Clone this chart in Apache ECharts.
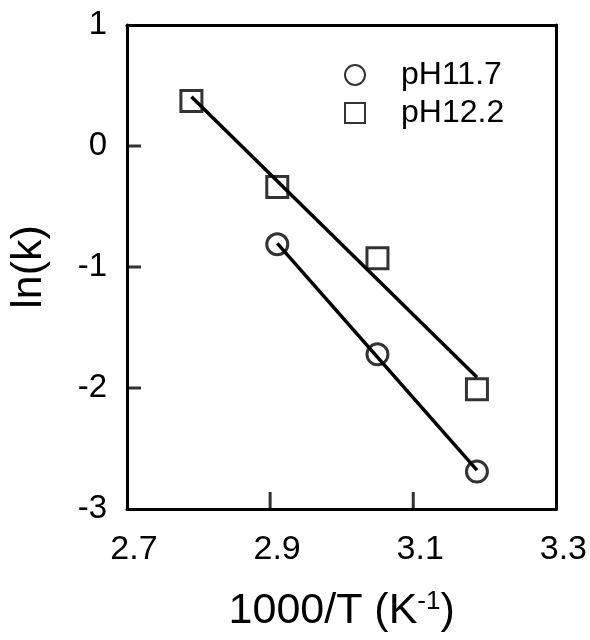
<!DOCTYPE html>
<html>
<head>
<meta charset="utf-8">
<script src="https://cdn.jsdelivr.net/npm/echarts@6/dist/echarts.min.js"></script>
<style>
  html, body { margin: 0; padding: 0; background: #fff; }
  #chart { width: 590px; height: 640px; }
</style>
</head>
<body>
<div id="chart"></div>
<script>
// Data
var seriesNames = ['pH11.7', 'pH12.2'];
var ph117Points = [[2.910, -0.812], [3.050, -1.722], [3.189, -2.691]];
var ph122Points = [[2.790, 0.372], [2.910, -0.339], [3.050, -0.928], [3.189, -2.011]];
var ph117Fit = [[2.910, -0.804], [3.189, -2.678]];
var ph122Fit = [[2.790, 0.407], [3.189, -1.912]];
var xTickValues = [2.9, 3.1];
var xLabelValues = [2.7, 2.9, 3.1, 3.3];
var yTickValues = [-2, -1, 0];
var yMin = -3, yMax = 1, yStep = 1;
var xMin = 2.7, xMax = 3.3;

var FONT = '"Liberation Sans", Arial, Helvetica, sans-serif';
var chart = echarts.init(document.getElementById('chart'), null, { renderer: 'canvas' });

var boxLine = { show: true, onZero: false, lineStyle: { color: '#000', width: 3 } };

chart.setOption({
  backgroundColor: '#fff',
  animation: false,
  grid: { left: 123, right: 33, top: 25, bottom: 131, show: false },
  legend: {
    data: seriesNames,
    orient: 'vertical',
    left: 339, top: 54,
    itemWidth: 20, itemHeight: 20, itemGap: 6,
    textStyle: { fontFamily: FONT, fontSize: 32, color: '#000', lineHeight: 32, padding: [0, 0, 0, 31] }
  },
  xAxis: [{
    type: 'value', min: xMin, max: xMax, position: 'bottom',
    name: '1000/T (K{sup|-1})',
    nameLocation: 'middle', nameGap: 80,
    nameTextStyle: {
      fontFamily: FONT, fontSize: 43, color: '#000',
      rich: { sup: { fontFamily: FONT, fontSize: 26, color: '#000', verticalAlign: 'top', padding: [0, 0, 18, 0] } }
    },
    axisLine: boxLine,
    axisTick: { show: false },
    axisLabel: {
      show: true, customValues: xLabelValues, margin: 24, fontFamily: FONT, fontSize: 34, color: '#000',
      padding: [0, 0, 0, 14],
      formatter: function (v) { return v.toFixed(1); }
    },
    splitLine: { show: false }
  }, {
    type: 'value', min: xMin, max: xMax, position: 'top',
    axisLine: boxLine, axisTick: { show: false }, axisLabel: { show: false }, splitLine: { show: false }
  }],
  yAxis: [{
    type: 'value', min: yMin, max: yMax, interval: yStep, position: 'left',
    name: 'ln(k)',
    nameLocation: 'middle', nameGap: 76, nameRotate: 90,
    nameTextStyle: { fontFamily: FONT, fontSize: 43, color: '#000' },
    axisLine: boxLine,
    axisTick: { show: false },
    axisLabel: {
      show: true, margin: 20, fontFamily: FONT, fontSize: 33, color: '#000',
      formatter: function (v) { return String(v); }
    },
    splitLine: { show: false }
  }, {
    type: 'value', min: yMin, max: yMax, interval: yStep, position: 'right',
    axisLine: boxLine, axisTick: { show: false }, axisLabel: { show: false }, splitLine: { show: false }
  }],
  series: [
    {
      name: 'xticks', type: 'scatter', data: xTickValues.map(function (v) { return [v, yMin]; }),
      symbol: 'rect', symbolSize: [3, 17], symbolOffset: [0, -8.5], silent: true, z: 5,
      itemStyle: { color: '#000' }
    },
    {
      name: 'yticks', type: 'scatter', data: yTickValues.map(function (v) { return [xMin, v]; }),
      symbol: 'rect', symbolSize: [14, 3], symbolOffset: [7, 0], silent: true, z: 5,
      itemStyle: { color: '#000' }
    },
    {
      name: 'fit117', type: 'line', data: ph117Fit, symbol: 'none',
      lineStyle: { color: '#000', width: 3.5 }, z: 1, silent: true
    },
    {
      name: 'fit122', type: 'line', data: ph122Fit, symbol: 'none',
      lineStyle: { color: '#000', width: 3.5 }, z: 1, silent: true
    },
    {
      name: seriesNames[0], type: 'scatter', data: ph117Points,
      symbol: 'circle', symbolSize: 21,
      itemStyle: { color: 'rgba(0,0,0,0)', borderColor: '#000', borderWidth: 3 }, z: 3
    },
    {
      name: seriesNames[1], type: 'scatter', data: ph122Points,
      symbol: 'rect', symbolSize: 21,
      itemStyle: { color: 'rgba(0,0,0,0)', borderColor: '#000', borderWidth: 3 }, z: 3
    }
  ]
});
</script>
</body>
</html>
